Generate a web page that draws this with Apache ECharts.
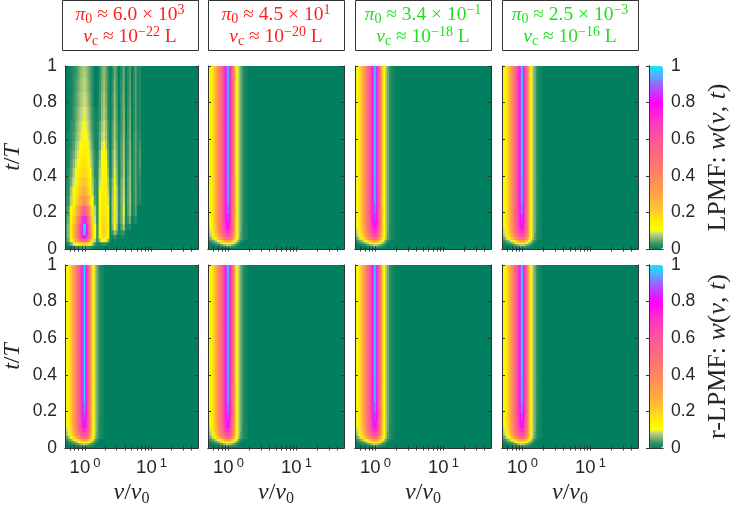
<!DOCTYPE html>
<html>
<head>
<meta charset="utf-8">
<title>LPMF w(v,t)</title>
<script src="https://cdn.jsdelivr.net/npm/echarts@6.0.0/dist/echarts.min.js"></script>
<style>
  html, body { margin: 0; padding: 0; background: #fff; }
  #main { width: 736px; height: 509px; }
</style>
</head>
<body>
<div id="main"></div>
<script>
// axis ranges and ticks
var vMin = 0.5, vMax = 50;
var vMajor = [1, 10];
var vTicks = [0.6, 0.7, 0.8, 0.9, 1, 2, 3, 4, 5, 6, 7, 8, 9, 10, 20, 30, 40];

// panel titles
var pi0Mant = ['6.0', '4.5', '3.4', '2.5'];
var pi0Exp = ['3', '1', '\u22121', '\u22123'];
var vcExp = ['\u221222', '\u221220', '\u221218', '\u221216'];
var titleColors = ['#ff1f1f', '#ff1f1f', '#1fe01f', '#1fe01f'];
var rowNames = ['LPMF', 'r-LPMF'];

// LPMF, pi0 ~ 6.0e3 : cell centres in v/v0 and t/T, values w(v,t)
var v1 = [0.51, 0.57, 0.63, 0.69, 0.75, 0.81, 0.87, 0.93, 0.98, 1.02, 1.08, 1.15, 1.23, 1.32, 1.43, 1.56,
  1.70, 1.84, 1.97, 2.11, 2.27, 2.45, 2.65, 2.85, 3.05, 3.3, 3.6, 3.9, 4.2, 4.5, 4.85, 5.2, 5.55, 5.9, 6.3, 6.7, 7.5];
var t1 = [0.01, 0.03, 0.05, 0.07, 0.09, 0.12, 0.16, 0.21, 0.27, 0.32, 0.37, 0.42, 0.47, 0.52, 0.57, 0.62,
  0.67, 0.74, 0.82, 0.9, 0.97];
var w1 = [
  [0,0,0,0.01,0.02,0.03,0.03,0.04,0.04,0.04,0.03,0.03,0.02,0.01, 0,0,0,0,0,0,0,0, 0,0,0,0, 0,0,0, 0,0,0, 0,0, 0,0,0],
  [0,0.02,0.05,0.09,0.13,0.16,0.18,0.19,0.2,0.2,0.18,0.15,0.11,0.07, 0.03,0.01,0.01,0.02,0.03,0.02,0.01,0, 0,0,0,0, 0,0,0, 0,0,0, 0,0, 0,0,0],
  [0.01,0.05,0.12,0.2,0.3,0.4,0.48,0.53,0.56,0.56,0.5,0.4,0.26,0.13, 0.08,0.02,0.07,0.11,0.13,0.11,0.06,0.01, 0,0.01,0,0, 0,0,0, 0,0,0, 0,0, 0,0,0],
  [0.01,0.06,0.14,0.24,0.36,0.5,0.63,0.74,0.82,0.82,0.72,0.56,0.36,0.19, 0.1,0.03,0.11,0.16,0.19,0.15,0.1,0.01, 0.01,0.03,0.01,0, 0.01,0.01,0, 0,0,0, 0,0, 0,0,0],
  [0.01,0.06,0.15,0.25,0.38,0.52,0.68,0.84,0.97,0.96,0.8,0.6,0.4,0.2, 0.1,0.03,0.12,0.18,0.21,0.17,0.11,0.01, 0.03,0.07,0.04,0.01, 0.02,0.03,0, 0,0,0, 0,0, 0,0,0],
  [0.01,0.06,0.15,0.24,0.36,0.5,0.66,0.84,1.0,0.99,0.82,0.6,0.38,0.2, 0.1,0.03,0.12,0.18,0.21,0.17,0.11,0.01, 0.06,0.12,0.07,0.01, 0.04,0.07,0.01, 0.01,0.02,0, 0,0, 0,0,0],
  [0.01,0.05,0.13,0.21,0.31,0.43,0.57,0.72,0.86,0.85,0.7,0.5,0.32,0.18, 0.09,0.02,0.12,0.17,0.19,0.16,0.1,0.01, 0.07,0.14,0.08,0.02, 0.05,0.09,0.01, 0.03,0.05,0, 0.01,0.02, 0,0,0],
  [0.01,0.04,0.11,0.17,0.25,0.33,0.42,0.52,0.6,0.59,0.5,0.38,0.24,0.15, 0.08,0.02,0.11,0.16,0.17,0.15,0.1,0.01, 0.07,0.14,0.08,0.02, 0.05,0.095,0.01, 0.04,0.065,0.01, 0.02,0.04, 0,0,0],
  [0.01,0.03,0.08,0.13,0.18,0.23,0.28,0.33,0.37,0.36,0.31,0.24,0.16,0.1, 0.04,0.02,0.11,0.15,0.16,0.14,0.09,0.01, 0.07,0.13,0.08,0.02, 0.05,0.09,0.01, 0.04,0.07,0.01, 0.025,0.045, 0.01,0.015,0],
  [0.01,0.02,0.07,0.11,0.15,0.19,0.23,0.26,0.28,0.28,0.24,0.19,0.13,0.08, 0.03,0.02,0.1,0.14,0.15,0.13,0.08,0.01, 0.065,0.12,0.075,0.015, 0.05,0.085,0.01, 0.04,0.065,0.01, 0.025,0.045, 0.01,0.02,0],
  [0,0.02,0.05,0.09,0.13,0.16,0.19,0.21,0.23,0.23,0.2,0.16,0.115,0.07, 0.03,0.02,0.09,0.13,0.14,0.12,0.07,0.01, 0.06,0.105,0.065,0.01, 0.05,0.08,0.01, 0.04,0.065,0.01, 0.025,0.045, 0.01,0.02,0],
  [0,0.02,0.04,0.075,0.105,0.14,0.16,0.18,0.19,0.19,0.17,0.14,0.1,0.06, 0.02,0.02,0.08,0.12,0.13,0.11,0.06,0, 0.05,0.095,0.06,0.01, 0.04,0.075,0.01, 0.035,0.06,0.01, 0.025,0.045, 0.01,0.03,0],
  [0,0.01,0.035,0.06,0.09,0.115,0.14,0.16,0.17,0.17,0.15,0.12,0.09,0.055, 0.02,0.015,0.07,0.11,0.125,0.1,0.05,0, 0.05,0.09,0.055,0.01, 0.04,0.072,0.01, 0.035,0.06,0.01, 0.025,0.045, 0.01,0.035,0],
  [0,0.01,0.03,0.05,0.075,0.095,0.12,0.14,0.15,0.15,0.13,0.105,0.08,0.05, 0.02,0.01,0.06,0.1,0.115,0.095,0.045,0, 0.05,0.085,0.05,0.01, 0.04,0.07,0.01, 0.03,0.057,0.005, 0.025,0.045, 0.01,0.035,0],
  [0,0.01,0.02,0.04,0.065,0.085,0.1,0.12,0.13,0.13,0.115,0.095,0.07,0.04, 0.01,0.01,0.05,0.09,0.1,0.08,0.035,0, 0.04,0.08,0.045,0.01, 0.04,0.065,0.01, 0.03,0.057,0.005, 0.025,0.045, 0.01,0.03,0],
  [0,0.01,0.02,0.035,0.055,0.075,0.09,0.105,0.115,0.115,0.1,0.085,0.06,0.035, 0.01,0.01,0.045,0.08,0.09,0.07,0.03,0, 0.04,0.075,0.04,0.01, 0.035,0.062,0.005, 0.03,0.05,0, 0.025,0.045, 0.01,0.02,0],
  [0,0,0.02,0.03,0.05,0.07,0.085,0.095,0.102,0.102,0.092,0.078,0.05,0.03, 0.01,0.01,0.04,0.07,0.085,0.065,0.03,0, 0.04,0.07,0.04,0.01, 0.03,0.06,0, 0.03,0.05,0, 0.02,0.04, 0.01,0.015,0],
  [0,0,0.01,0.03,0.045,0.062,0.078,0.088,0.094,0.094,0.084,0.068,0.046,0.026, 0.01,0.01,0.03,0.062,0.077,0.057,0.02,0, 0.03,0.066,0.035,0, 0.03,0.056,0, 0.025,0.046,0, 0.02,0.04, 0.01,0.015,0],
  [0,0,0.01,0.025,0.04,0.056,0.07,0.08,0.086,0.086,0.076,0.06,0.042,0.022, 0,0,0.03,0.058,0.072,0.052,0.02,0, 0.03,0.062,0.032,0, 0.03,0.052,0, 0.022,0.042,0, 0.02,0.04, 0.01,0.015,0],
  [0,0,0.01,0.02,0.037,0.05,0.064,0.074,0.079,0.079,0.069,0.054,0.038,0.02, 0,0,0.025,0.053,0.066,0.048,0.02,0, 0.025,0.057,0.03,0, 0.025,0.048,0, 0.02,0.04,0, 0.02,0.04, 0.01,0.015,0],
  [0,0,0.01,0.02,0.03,0.045,0.06,0.07,0.075,0.075,0.065,0.05,0.035,0.02, 0,0,0.02,0.05,0.06,0.045,0.02,0, 0.02,0.05,0.03,0, 0.02,0.045,0, 0.02,0.035,0, 0.02,0.04, 0.01,0.015,0]
];

// single ridge at v = v0 (the other seven panels)
var v2 = [0.51, 0.55, 0.59, 0.63, 0.67, 0.71, 0.75, 0.79, 0.83, 0.87, 0.91, 0.95, 1.0, 1.05, 1.09, 1.14,
  1.19, 1.25, 1.31, 1.38, 1.46, 1.55, 1.66, 1.8, 2.1];
var t2 = [0.005, 0.015, 0.025, 0.035, 0.045, 0.06, 0.08, 0.1, 0.13, 0.17, 0.22, 0.28, 0.5, 0.85];
var w2 = [
  [0,0,0,0,0,0,0,0,0,0,0,0,0,0,0,0,0,0,0,0,0,0,0,0,0],
  [0,0,0,0,0,0.01,0.01,0.02,0.02,0.03,0.03,0.04,0.04,0.04,0.03,0.03,0.02,0.02,0.01,0.01,0,0,0,0,0],
  [0,0,0.01,0.01,0.02,0.02,0.03,0.04,0.05,0.06,0.07,0.08,0.08,0.08,0.07,0.06,0.05,0.04,0.03,0.02,0.01,0,0,0,0],
  [0.01,0.01,0.02,0.03,0.04,0.05,0.07,0.09,0.11,0.13,0.15,0.16,0.16,0.16,0.15,0.13,0.11,0.08,0.06,0.04,0.02,0.01,0,0,0],
  [0.02,0.03,0.04,0.06,0.08,0.11,0.14,0.18,0.22,0.26,0.29,0.31,0.32,0.31,0.29,0.25,0.2,0.15,0.1,0.07,0.04,0.02,0.01,0,0],
  [0.03,0.05,0.08,0.12,0.17,0.22,0.28,0.34,0.39,0.44,0.47,0.5,0.52,0.5,0.46,0.4,0.32,0.23,0.15,0.1,0.06,0.04,0.02,0.01,0],
  [0.05,0.08,0.12,0.17,0.23,0.29,0.36,0.43,0.49,0.55,0.6,0.63,0.66,0.63,0.58,0.5,0.4,0.29,0.17,0.11,0.07,0.04,0.02,0.01,0],
  [0.06,0.09,0.14,0.2,0.26,0.33,0.4,0.47,0.54,0.6,0.66,0.7,0.74,0.7,0.63,0.54,0.43,0.31,0.17,0.11,0.07,0.05,0.02,0.01,0],
  [0.07,0.1,0.15,0.21,0.28,0.35,0.42,0.5,0.57,0.64,0.71,0.77,0.82,0.76,0.67,0.57,0.45,0.32,0.17,0.11,0.07,0.05,0.02,0.01,0],
  [0.08,0.11,0.16,0.22,0.29,0.36,0.43,0.51,0.58,0.65,0.73,0.81,0.88,0.8,0.7,0.59,0.46,0.33,0.17,0.11,0.07,0.05,0.025,0.01,0],
  [0.09,0.12,0.16,0.22,0.29,0.36,0.44,0.52,0.59,0.66,0.74,0.84,0.93,0.82,0.71,0.6,0.47,0.33,0.17,0.11,0.07,0.05,0.025,0.01,0],
  [0.09,0.12,0.16,0.22,0.29,0.36,0.44,0.52,0.59,0.66,0.75,0.86,0.98,0.84,0.72,0.6,0.47,0.33,0.17,0.11,0.07,0.05,0.025,0.01,0],
  [0.09,0.12,0.16,0.22,0.29,0.36,0.44,0.52,0.59,0.66,0.75,0.87,1.0,0.85,0.72,0.6,0.47,0.33,0.17,0.11,0.07,0.05,0.025,0.01,0],
  [0.09,0.12,0.16,0.22,0.29,0.36,0.44,0.52,0.59,0.66,0.75,0.87,1.0,0.85,0.72,0.6,0.47,0.33,0.17,0.11,0.07,0.05,0.025,0.01,0]
];

// which grid each panel uses: top row then bottom row
var panelData = [[v1, t1, w1], [v2, t2, w2], [v2, t2, w2], [v2, t2, w2],
                 [v2, t2, w2], [v2, t2, w2], [v2, t2, w2], [v2, t2, w2]];

// colormap stops
var cmapPos = [0, 0.03, 0.06, 0.09, 0.1, 0.15, 0.2, 0.3, 0.4, 0.5, 0.6, 0.7, 0.8, 0.9, 0.95, 1];
var cmapCol = ['#00805f', '#3d9468', '#8cba70', '#d2e07a', '#ffff00', '#ffee00', '#ffcf2a', '#ffa445',
  '#ff8660', '#ff6c7c', '#ff5698', '#ff34c6', '#ff00ff', '#9a66ff', '#4cb4ff', '#18e4ff'];

// layout
var colLeft = [62, 208, 355, 502], panelW = 136;
var rowTop = [66, 265], panelH = 183;
var cbLeft = 649, cbW = 14;
var frame = '#333333', ink = '#262626';
var serif = 'Liberation Serif', sans = 'Liberation Sans';

function hexRgb(h) {
  return [parseInt(h.substr(1, 2), 16), parseInt(h.substr(3, 2), 16), parseInt(h.substr(5, 2), 16)];
}
function buildCmap(n) {
  var out = [];
  for (var k = 0; k < n; k++) {
    var x = k / (n - 1), j = 0;
    while (j < cmapPos.length - 2 && x > cmapPos[j + 1]) j++;
    var f = (x - cmapPos[j]) / (cmapPos[j + 1] - cmapPos[j]);
    f = Math.max(0, Math.min(1, f));
    var a = hexRgb(cmapCol[j]), b = hexRgb(cmapCol[j + 1]);
    out.push('rgb(' + Math.round(a[0] + (b[0] - a[0]) * f) + ',' + Math.round(a[1] + (b[1] - a[1]) * f) + ',' +
      Math.round(a[2] + (b[2] - a[2]) * f) + ')');
  }
  return out;
}

function buildCells(vs, ts, ws) {
  var ve = [vMin], te = [0], out = [];
  for (var i = 1; i < vs.length; i++) ve.push(Math.sqrt(vs[i - 1] * vs[i]));
  ve.push(vMax);
  for (var j = 1; j < ts.length; j++) te.push((ts[j - 1] + ts[j]) / 2);
  te.push(1);
  for (j = 0; j < ts.length; j++) {
    for (i = 0; i < vs.length; i++) {
      out.push([ve[i], ve[i + 1], te[j], te[j + 1], ws[j][i]]);
    }
  }
  return out;
}

// cells overlap by half a pixel on every side so no seams show
function renderCell(params, api) {
  var p0 = api.coord([api.value(0), api.value(3)]);
  var p1 = api.coord([api.value(1), api.value(2)]);
  return {
    type: 'rect',
    shape: { x: p0[0] - 0.5, y: p0[1] - 0.5, width: p1[0] - p0[0] + 1, height: p1[1] - p0[1] + 1 },
    style: { fill: api.visual('color'), lineWidth: 0 }
  };
}

var tickLabelRich = {
  b: { fontFamily: sans, fontSize: 18.5, lineHeight: 21, color: ink },
  s: { fontFamily: sans, fontSize: 13, lineHeight: 13, verticalAlign: 'top', padding: [0, 0, 0, 3], color: ink }
};
var nameRich = {
  n: { fontFamily: serif, fontSize: 24, lineHeight: 28, color: ink },
  i: { fontFamily: serif, fontStyle: 'italic', fontSize: 24, lineHeight: 28, color: ink },
  s: { fontFamily: serif, fontSize: 16, lineHeight: 20, verticalAlign: 'bottom', color: ink }
};
var cbNameRich = {
  n: { fontFamily: serif, fontSize: 26, lineHeight: 30, color: ink },
  i: { fontFamily: serif, fontStyle: 'italic', fontSize: 26, lineHeight: 30, color: ink }
};

var grids = [], xAxes = [], yAxes = [], series = [];
for (var p = 0; p < 8; p++) {
  var r = Math.floor(p / 4), c = p % 4;
  grids.push({ left: colLeft[c], top: rowTop[r], width: panelW, height: panelH });
  ['bottom', 'top'].forEach(function (pos) {
    xAxes.push({
      type: 'log', logBase: 10, gridIndex: p, min: vMin, max: vMax, position: pos, z: 10,
      axisLine: { show: true, lineStyle: { color: frame, width: 1 } },
      axisTick: { show: true, inside: true, length: 2.5, customValues: vTicks, lineStyle: { color: frame } },
      axisLabel: {
        show: pos === 'bottom' && r === 1, customValues: vMajor, margin: 9,
        formatter: function (val) { return '{b|10}{s|' + Math.round(Math.log10(val)) + '}'; },
        rich: tickLabelRich
      },
      splitLine: { show: false },
      name: (pos === 'bottom' && r === 1) ? '{i|v}{n|/}{i|v}{s|0}' : '',
      nameLocation: 'middle', nameGap: 31, nameTextStyle: { rich: nameRich }
    });
  });
  ['left', 'right'].forEach(function (pos) {
    yAxes.push({
      type: 'value', gridIndex: p, min: 0, max: 1, interval: 0.2, position: pos, z: 10,
      axisLine: { show: true, lineStyle: { color: frame, width: 1 } },
      axisTick: { show: true, inside: true, length: 3, lineStyle: { color: frame } },
      axisLabel: { show: pos === 'left' && c === 0, margin: 8, fontFamily: sans, fontSize: 17.5, color: ink },
      splitLine: { show: false },
      name: (pos === 'left' && c === 0) ? '{i|t}{n|/}{i|T}' : '',
      nameLocation: 'middle', nameGap: 38, nameTextStyle: { rich: nameRich }
    });
  });
  series.push({
    type: 'custom', coordinateSystem: 'cartesian2d', xAxisIndex: 2 * p, yAxisIndex: 2 * p,
    renderItem: renderCell, encode: { x: [0, 1], y: [2, 3] }, clip: true, silent: true,
    data: buildCells(panelData[p][0], panelData[p][1], panelData[p][2])
  });
}

// colorbar frames and ticks
for (var rr = 0; rr < 2; rr++) {
  var g = grids.length;
  grids.push({ left: cbLeft, top: rowTop[rr], width: cbW, height: panelH });
  ['bottom', 'top'].forEach(function (pos) {
    xAxes.push({
      type: 'value', gridIndex: g, min: 0, max: 1, position: pos, z: 10,
      axisLine: { show: true, lineStyle: { color: frame } }, axisTick: { show: false },
      axisLabel: { show: false }, splitLine: { show: false }
    });
  });
  yAxes.push({
    type: 'value', gridIndex: g, min: 0, max: 1, position: 'left', z: 10,
    axisLine: { show: true, lineStyle: { color: frame } }, axisTick: { show: false },
    axisLabel: { show: false }, splitLine: { show: false }
  });
  yAxes.push({
    type: 'value', gridIndex: g, min: 0, max: 1, interval: 0.2, position: 'right', z: 10,
    axisLine: { show: true, lineStyle: { color: frame } },
    axisTick: { show: true, inside: true, length: 3, lineStyle: { color: frame } },
    axisLabel: { show: true, margin: 8, fontFamily: sans, fontSize: 17.5, color: ink },
    splitLine: { show: false },
    name: '{n|' + rowNames[rr] + ': }{i|w}{n|(}{i|v}{n|, }{i|t}{n|)}',
    nameLocation: 'middle', nameGap: 40, nameRotate: 90, nameTextStyle: { rich: cbNameRich }
  });
}

var cmap = buildCmap(101);
var visualMaps = [0, 1].map(function (k) {
  return {
    type: 'continuous', min: 0, max: 1, dimension: 4,
    seriesIndex: k === 0 ? [0, 1, 2, 3] : [4, 5, 6, 7],
    inRange: { color: cmap }, calculable: false, hoverLink: false, orient: 'vertical',
    left: cbLeft, top: rowTop[k], itemWidth: cbW, itemHeight: panelH, padding: 0
  };
});

// title boxes above the top row
var graphics = [];
for (var q = 0; q < 4; q++) {
  var col = titleColors[q];
  var rich = {
    n: { fontFamily: serif, fontSize: 19.5, lineHeight: 23, fill: col },
    i: { fontFamily: serif, fontStyle: 'italic', fontSize: 19.5, lineHeight: 23, fill: col },
    s: { fontFamily: serif, fontSize: 14, lineHeight: 18, verticalAlign: 'bottom', fill: col },
    p: { fontFamily: serif, fontSize: 14, lineHeight: 14, verticalAlign: 'top', fill: col }
  };
  graphics.push({
    type: 'rect', shape: { x: colLeft[q] + 0.5, y: 0.5, width: panelW, height: 50 },
    style: { fill: '#fff', stroke: frame, lineWidth: 1 }
  });
  graphics.push({
    type: 'text', x: colLeft[q] + panelW / 2, y: 15,
    style: {
      text: '{i|\u03c0}{s|0}{n| \u2248 ' + pi0Mant[q] + ' \u00d7 10}{p|' + pi0Exp[q] + '}',
      rich: rich, align: 'center', verticalAlign: 'middle', fill: col
    }
  });
  graphics.push({
    type: 'text', x: colLeft[q] + panelW / 2, y: 37,
    style: {
      text: '{i|v}{s|c}{n| \u2248 10}{p|' + vcExp[q] + '}{n| L}',
      rich: rich, align: 'center', verticalAlign: 'middle', fill: col
    }
  });
}

var chart = echarts.init(document.getElementById('main'));
chart.setOption({
  animation: false,
  backgroundColor: '#ffffff',
  grid: grids,
  xAxis: xAxes,
  yAxis: yAxes,
  visualMap: visualMaps,
  series: series,
  graphic: { elements: graphics }
});
</script>
</body>
</html>
